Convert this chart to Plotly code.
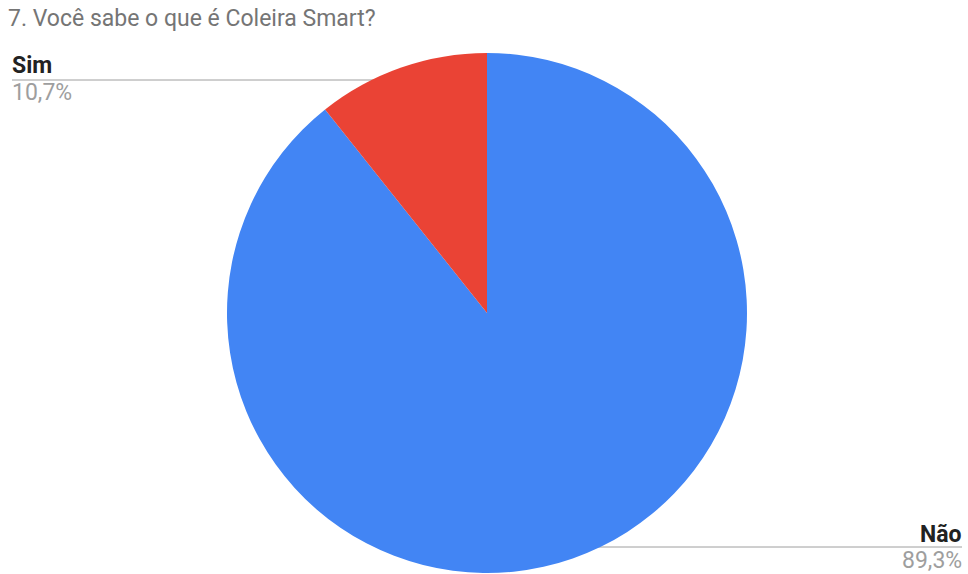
import plotly.graph_objects as go

labels = ["Não", "Sim"]
values = [89.3, 10.7]
colors = ["#4285F4", "#EA4335"]
title = "7. Você sabe o que é Coleira Smart?"

W, H = 968, 574
def px(x): return x / W
def py(y): return 1 - y / H

cx, cy, r = 487, 313, 260

fig = go.Figure(go.Pie(
    labels=labels, values=values, sort=False, direction="clockwise", rotation=0,
    marker=dict(colors=colors, line=dict(width=0)),
    textinfo="none", hoverinfo="label+percent", showlegend=False,
    domain=dict(x=[px(cx - r), px(cx + r)], y=[py(cy + r), py(cy - r)]),
))

def pct(v):
    return f"{v:.1f}".replace(".", ",") + "%"

line_col = "#9e9e9e"
shapes = [
    dict(type="line", xref="paper", yref="paper", x0=px(12), x1=px(405), y0=py(80), y1=py(80),
         line=dict(color=line_col, width=1), layer="below"),
    dict(type="line", xref="paper", yref="paper", x0=px(568), x1=px(962), y0=py(547), y1=py(547),
         line=dict(color=line_col, width=1), layer="below"),
]
F = "Roboto, Arial, sans-serif"
FS = 23
annotations = [
    dict(text=title, x=px(6), y=py(19), xref="paper", yref="paper", xanchor="left", yanchor="middle",
         showarrow=False, font=dict(family=F, size=FS, color="#757575")),
    dict(text="<b>" + labels[1] + "</b>", x=px(10), y=py(66), xref="paper", yref="paper",
         xanchor="left", yanchor="middle", showarrow=False, font=dict(family=F, size=FS, color="#222222")),
    dict(text=pct(values[1]), x=px(10), y=py(92), xref="paper", yref="paper",
         xanchor="left", yanchor="middle", showarrow=False, font=dict(family=F, size=FS, color="#9e9e9e")),
    dict(text="<b>" + labels[0] + "</b>", x=px(964), y=py(534), xref="paper", yref="paper",
         xanchor="right", yanchor="middle", showarrow=False, font=dict(family=F, size=FS, color="#222222")),
    dict(text=pct(values[0]), x=px(964), y=py(560), xref="paper", yref="paper",
         xanchor="right", yanchor="middle", showarrow=False, font=dict(family=F, size=FS, color="#9e9e9e")),
]

fig.update_layout(
    width=W, height=H, margin=dict(l=0, r=0, t=0, b=0),
    paper_bgcolor="white", plot_bgcolor="white",
    shapes=shapes, annotations=annotations,
)
fig.write_html("out.html", config={"displayModeBar": False},
               post_script="document.body.style.margin='0';document.body.style.overflow='hidden';")
